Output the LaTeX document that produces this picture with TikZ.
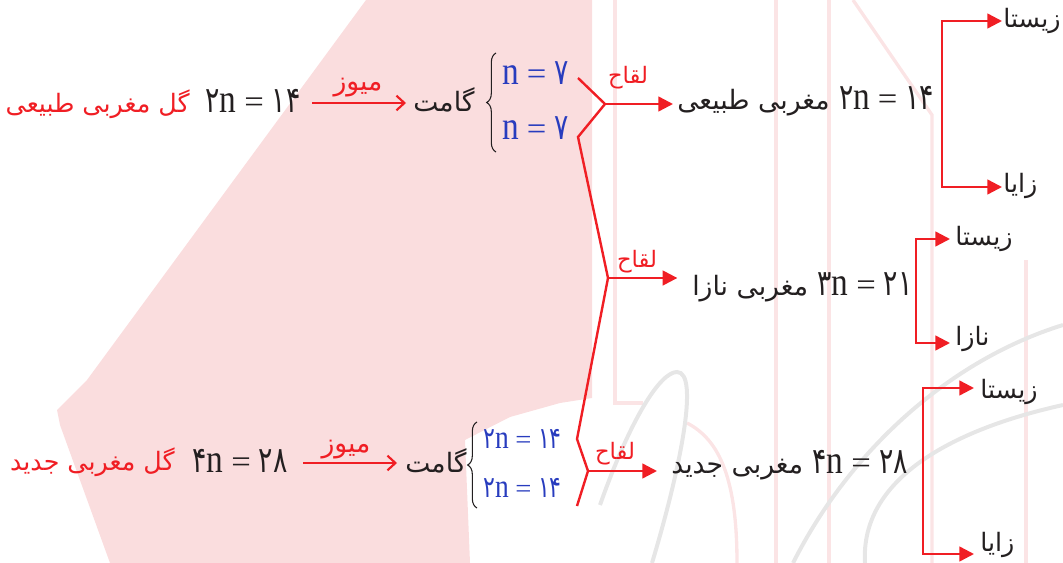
\documentclass[tikz,border=0pt]{standalone}
\usepackage{fontspec}
\usepackage{graphicx}
\usetikzlibrary{arrows.meta,decorations.pathreplacing}
\TeXXeTstate=1
\newfontfamily\fa[Script=Arabic]{DejaVu Sans}
\newfontfamily\lat{Liberation Serif}
\definecolor{myred}{RGB}{240,30,36}
\definecolor{myblue}{RGB}{40,60,190}
\definecolor{myink}{RGB}{35,31,32}
\definecolor{wmpink}{RGB}{250,221,222}
\definecolor{wmstripe}{RGB}{251,228,229}
\definecolor{wmgray}{RGB}{230,230,230}
\newcommand{\fw}[1]{{\fa\beginR #1\endR}}
\newcommand{\dg}[1]{\scalebox{1.0}[1.35]{\fa #1}}
\newcommand{\eqx}[2]{\dg{#1}\scalebox{1.25}[1.5]{\lat n}\hspace{0.3em}\scalebox{1.3}[1.2]{\lat =}\hspace{0.3em}\dg{#2}}
\tikzset{
  txt/.style={inner sep=0pt, font=\fa\fontsize{20}{24}\selectfont, text=myink},
  stxt/.style={inner sep=0pt, font=\fa\fontsize{19}{22}\selectfont, text=myink},
  rtxt/.style={inner sep=0pt, font=\fa\fontsize{19}{22}\selectfont, text=myred},
  btxt/.style={txt, text=myblue},
  lbl/.style={inner sep=0pt, font=\fa\fontsize{17}{20}\selectfont, text=myred},
  mlbl/.style={inner sep=0pt, font=\fa\fontsize{20}{22}\selectfont, text=myred},
  rl/.style={draw=myred, line width=1.8pt, line join=miter},
  tri/.style={rl, -{Triangle[length=11pt,width=11pt]}},
  br/.style={rl, {Triangle[length=11pt,width=11pt]}-{Triangle[length=11pt,width=11pt]}},
  meio/.style={rl, -{Straight Barb[length=6pt,width=11pt,line width=1.6pt]}},
  brc/.style={draw=myink, line width=0.8pt, decorate, decoration={brace, amplitude=7pt}},
  stripe/.style={draw=wmstripe, line width=2.5pt},
  arcw/.style={draw=wmgray, line width=3pt},
}
\begin{document}
\begin{tikzpicture}[x=0.75pt,y=-0.75pt]
\useasboundingbox (0,0) rectangle (1063,563);
% watermark
\fill[wmpink] (366,0) -- (592,0) -- (592,398) -- (560,403) -- (510,417) -- (465,440) -- (470,563) -- (110,563) -- (60,425) -- (57,410) -- (87,380) -- cycle;
\draw[stripe] (615,0) -- (615,403) -- (643,403);
\foreach \xx in {776,829} \draw[stripe] (\xx,0) -- (\xx,563);
\draw[stripe] (853,0) -- (932,115) -- (932,563);
\draw[stripe] (1026,260) -- (1026,563);
\draw[stripe] (687,423) .. controls (720,440) and (737,480) .. (737,563);
\draw[arcw] (600,505) .. controls (630,420) and (660,372) .. (677,372) .. controls (700,372) and (680,470) .. (652,563);
\draw[arcw] (793,563) .. controls (850,450) and (950,360) .. (1063,325);
\draw[arcw] (865,563) .. controls (860,480) and (950,430) .. (1063,405);
% row 1
\node[rtxt, anchor=base east] (r1a) at (190,113) {\fw{گل مغربی طبیعی}};
\node[txt, anchor=base west] (r1b) at (205,113) {\eqx{۲}{۱۴}};
\node[txt, anchor=base west] (g1) at (413,112) {\fw{گامت}};
\coordinate (m1s) at (312,103); \coordinate (m1e) at (406,103);
\draw[meio] (m1s) -- (m1e);
\node[mlbl, anchor=base] (ml1) at (358,91) {\fw{میوز}};
\draw[brc] (496,152) -- (496,53);
\node[btxt, anchor=base west] (n1) at (502,85) {\eqx{}{۷}};
\node[btxt, anchor=base west] (n2) at (502,140) {\eqx{}{۷}};
\coordinate (f1) at (578,78); \coordinate (j1) at (605,104); \coordinate (f2) at (578,137);
\coordinate (j2) at (608,278); \coordinate (f3) at (577,439); \coordinate (j3) at (588,471); \coordinate (f4) at (577,506);
\draw[rl] (f1) -- (j1) -- (f2) -- (j2) -- (f3) -- (j3) -- (f4);
\node[txt, anchor=base west] (t1) at (677,110) {\fw{مغربی طبیعی}\hspace{0.35em}\eqx{۲}{۱۴}};
\draw[tri, shorten >=3pt] (j1) -- (j1 -| t1.west);
\node[lbl, anchor=base] (l1) at (628,84) {\fw{لقاح}};
\node[stxt, anchor=base west] (zs1) at (1003,28) {\fw{زیستا}};
\node[stxt, anchor=base west] (zy1) at (1003,192) {\fw{زایا}};
\coordinate (a1t) at (1002,21); \coordinate (a1b) at (1002,187); \coordinate (v1) at (942,104);
\draw[br] (a1t) -| (v1) |- (a1b);
% row 2
\node[lbl, anchor=base] (l2) at (637,267) {\fw{لقاح}};
\node[txt, anchor=base west] (t2) at (692,295) {\fw{مغربی نازا}\hspace{0.35em}\eqx{۳}{۲۱}};
\draw[tri, shorten >=11pt] (j2) -- (j2 -| t2.west);
\node[stxt, anchor=base west] (zs2) at (955,245) {\fw{زیستا}};
\node[stxt, anchor=base west] (nz2) at (955,345) {\fw{نازا}};
\coordinate (a2t) at (950,239); \coordinate (a2b) at (950,343); \coordinate (v2) at (916,290);
\draw[br] (a2t) -| (v2) |- (a2b);
% row 3
\node[rtxt, anchor=base east] (r3a) at (175,470) {\fw{گل مغربی جدید}};
\node[txt, anchor=base west] (r3b) at (192,472) {\eqx{۴}{۲۸}};
\node[txt, anchor=base west] (g3) at (405,472) {\fw{گامت}};
\coordinate (m3s) at (303,463); \coordinate (m3e) at (397,463);
\draw[meio] (m3s) -- (m3e);
\node[mlbl, anchor=base] (ml3) at (346,452) {\fw{میوز}};
\draw[brc] (477,508) -- (477,422);
\node[btxt, anchor=base west, font=\fa\fontsize{16.5}{18}\selectfont] (n3) at (483,448) {\eqx{۲}{۱۴}};
\node[btxt, anchor=base west, font=\fa\fontsize{16.5}{18}\selectfont] (n4) at (483,497) {\eqx{۲}{۱۴}};
\node[lbl, anchor=base] (l3) at (615,459) {\fw{لقاح}};
\node[txt, anchor=base west] (t3) at (671,473) {\fw{مغربی جدید}\hspace{0.35em}\eqx{۴}{۲۸}};
\draw[tri, shorten >=10.5pt] (j3) -- (j3 -| t3.west);
\node[stxt, anchor=base west] (zs3) at (980,398) {\fw{زیستا}};
\node[stxt, anchor=base west] (zy3) at (980,551) {\fw{زایا}};
\coordinate (a3t) at (974,388); \coordinate (a3b) at (974,554); \coordinate (v3) at (923,470);
\draw[br] (a3t) -| (v3) |- (a3b);
\end{tikzpicture}
\end{document}
